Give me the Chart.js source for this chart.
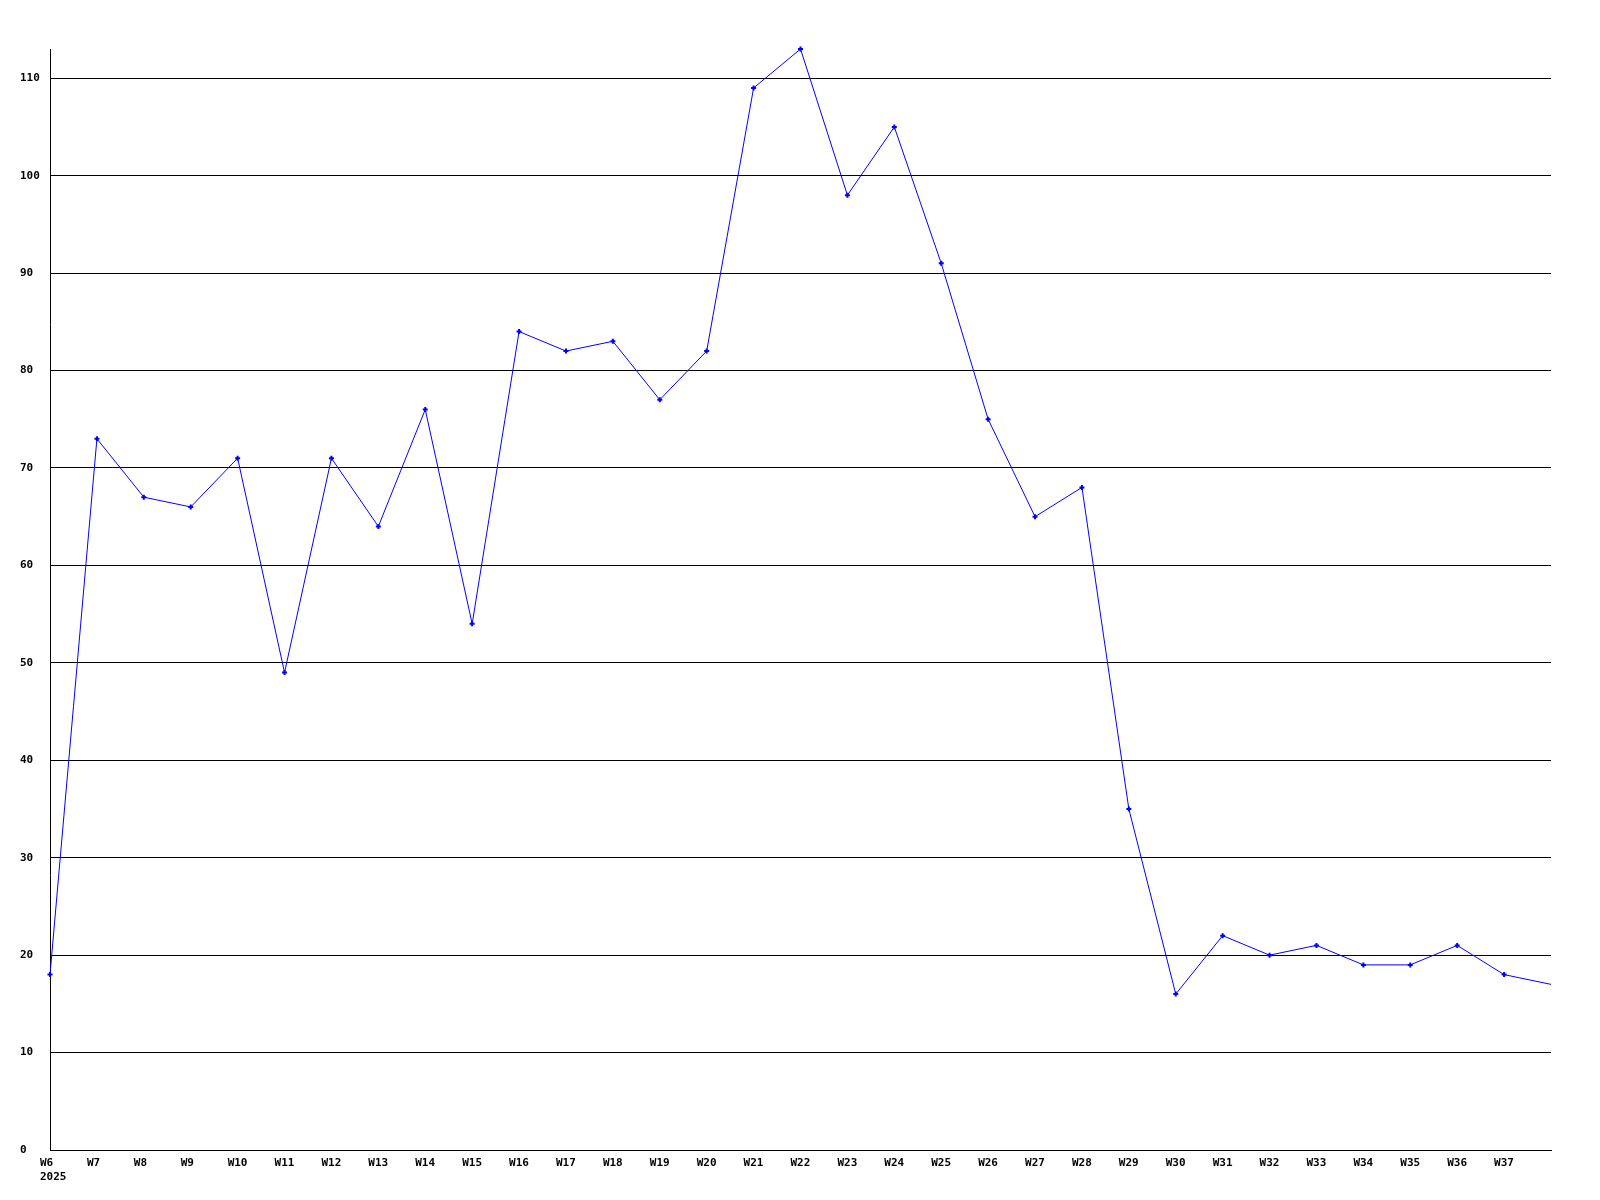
<!DOCTYPE html>
<html>
<head>
<meta charset="utf-8">
<script src="https://cdn.jsdelivr.net/npm/chart.js@4/dist/chart.umd.min.js"></script>
<style>
  body { margin: 0; background: #fff; }
  canvas { display: block; }
</style>
</head>
<body>
<canvas id="chart" width="1600" height="1200"></canvas>
<script>
// weekly values, W6 2025 .. W38 (last week has no label)
var weeks = ['W6','W7','W8','W9','W10','W11','W12','W13','W14','W15','W16','W17','W18','W19','W20','W21',
	'W22','W23','W24','W25','W26','W27','W28','W29','W30','W31','W32','W33','W34','W35','W36','W37',''];
var year = '2025';
var values = [18, 73, 67, 66, 71, 49, 71, 64, 76, 54, 84, 82, 83, 77, 82, 109,
	113, 98, 105, 91, 75, 65, 68, 35, 16, 22, 20, 21, 19, 19, 21, 18, 17];
var yMin = 0;
var yMax = 113;
var yStep = 10;

var labels = weeks.map(function(w, i){
	return i === 0 ? [w, year] : w;
});
var radii = values.map(function(v, i){
	return i === values.length - 1 ? 0 : 2.5;
});

var font = { family: 'DejaVu Sans Mono', size: 11, weight: 'bold' };

var ctx = document.getElementById('chart');
var chart = new Chart(ctx, {
	type: 'line',
	data: {
		labels: labels,
		datasets: [{
			data: values,
			borderColor: '#0000ff',
			backgroundColor: '#0000ff',
			borderWidth: 1,
			tension: 0,
			clip: false,
			pointStyle: 'cross',
			pointRadius: radii,
			pointBorderWidth: 2,
			pointHoverRadius: 0
		}]
	},
	options: {
		responsive: false,
		animation: false,
		events: [],
		layout: { padding: { left: 20, right: 49, top: 49, bottom: 0 } },
		plugins: { legend: { display: false }, tooltip: { enabled: false } },
		scales: {
			x: {
				offset: false,
				afterFit: function(s){ s.height = 50; },
				grid: { display: false, drawTicks: false },
				border: { display: true, color: '#000', width: 1 },
				ticks: {
					color: '#000', font: font, padding: 7,
					align: 'start', labelOffset: -10,
					autoSkip: false, maxRotation: 0, minRotation: 0
				}
			},
			y: {
				min: yMin,
				max: yMax,
				afterFit: function(s){ s.width = 30; },
				grid: { color: '#000', lineWidth: 1, drawTicks: false },
				border: { display: true, color: '#000', width: 1 },
				ticks: {
					stepSize: yStep, includeBounds: false,
					color: '#000', font: font, crossAlign: 'far', padding: 0
				}
			}
		}
	}
});
</script>
</body>
</html>
